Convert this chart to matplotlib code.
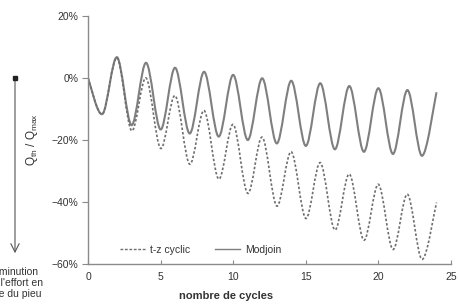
import matplotlib
matplotlib.use('Agg')
import matplotlib.pyplot as plt
from matplotlib.path import Path
from matplotlib.patches import PathPatch, FancyArrowPatch
from matplotlib.lines import Line2D
from matplotlib.ticker import PercentFormatter

plt.rcParams['font.family'] = ['Liberation Sans', 'DejaVu Sans']
plt.rcParams['mathtext.fontset'] = 'custom'

# data: extremes of Q/Qmax at each half cycle (%)
cycles = list(range(25))
tz_cyclic = [0, -11.6, 6.5, -17.0, 0.0, -22.7, -5.7, -27.8, -10.5, -32.6, -15.0, -37.2, -19.1,
             -41.3, -23.8, -45.3, -27.3, -49.0, -31.0, -52.3, -34.3, -55.3, -37.5, -58.5, -40.2]
modjoin = [0, -11.6, 6.7, -15.2, 4.9, -16.6, 3.3, -17.9, 2.0, -18.9, 1.0, -20.0, -0.1,
           -21.1, -0.9, -21.9, -1.7, -23.0, -2.6, -23.8, -3.3, -24.5, -3.9, -25.1, -4.6]
x_ticks = [0, 5, 10, 15, 20, 25]
y_ticks = [-60, -40, -20, 0, 20]

gray = '#7f7f7f'
dark = '#6e6e6e'
axcol = '#8a8a8a'
txt = '#333333'
fs = 7.5


def smooth_path(xs, ys):
    # excel-like smoothed line (cubic bezier, catmull-rom tangents)
    pts = list(zip(xs, ys))
    n = len(pts)
    verts = [pts[0]]
    codes = [Path.MOVETO]
    for i in range(n - 1):
        p0 = pts[max(i - 1, 0)]
        p1 = pts[i]
        p2 = pts[i + 1]
        p3 = pts[min(i + 2, n - 1)]
        c1 = (p1[0] + (p2[0] - p0[0]) / 6, p1[1] + (p2[1] - p0[1]) / 6)
        c2 = (p2[0] - (p3[0] - p1[0]) / 6, p2[1] - (p3[1] - p1[1]) / 6)
        verts += [c1, c2, p2]
        codes += [Path.CURVE4] * 3
    return Path(verts, codes)


fig = plt.figure(figsize=(4.59, 3.04), dpi=100)
ax = fig.add_axes([88 / 459, 1 - 264 / 304, 363 / 459, 248 / 304])

ax.add_patch(PathPatch(smooth_path(cycles, modjoin), fill=False, edgecolor=gray, lw=1.5))
ax.add_patch(PathPatch(smooth_path(cycles, tz_cyclic), fill=False, edgecolor=dark, lw=1.2,
                       linestyle=(0, (1.5, 1.2))))

ax.set_xlim(0, 25)
ax.set_ylim(-60, 20)
ax.set_xticks(x_ticks)
ax.set_yticks(y_ticks)
ax.yaxis.set_major_formatter(PercentFormatter(decimals=0))
for s in ['top', 'right']:
    ax.spines[s].set_visible(False)
for s in ['left', 'bottom']:
    ax.spines[s].set_color(axcol)
    ax.spines[s].set_linewidth(1.0)
ax.tick_params(axis='x', direction='in', length=3, color=axcol, labelsize=fs, pad=6, labelcolor=txt)
ax.tick_params(axis='y', direction='out', length=4, color=axcol, labelsize=fs, pad=3, labelcolor=txt)

ax.set_ylabel(r'Q$_\mathregular{th}$ / Q$_\mathregular{max}$', fontsize=fs + 1, color=txt, labelpad=8)
fig.text(226 / 459, 1 - 296 / 304, 'nombre de cycles', ha='center', va='center',
         fontsize=fs + 0.5, fontweight='bold', color=txt)

handles = [Line2D([], [], color=dark, lw=1.0, linestyle=(0, (2, 1.2))),
           Line2D([], [], color=gray, lw=1.0)]
ax.legend(handles, ['t-z cyclic', 'Modjoin'], loc='center left', ncol=2, frameon=False,
          bbox_to_anchor=((120 - 88) / 363, (264 - 250) / 248), borderpad=0, borderaxespad=0,
          handlelength=2.4, handletextpad=0.5, columnspacing=2.4, fontsize=fs, labelcolor=txt)

# arrow on the left
fig.add_artist(FancyArrowPatch((15 / 459, 1 - 78 / 304), (15 / 459, 1 - 256 / 304),
                               transform=fig.transFigure, arrowstyle='->,head_length=3,head_width=1.5',
                               color='#555555', lw=0.8, mutation_scale=2))
fig.add_artist(Line2D([15 / 459], [1 - 78 / 304], transform=fig.transFigure, marker='s',
                      markersize=2.5, color='#222222'))
fig.text(14 / 459, 1 - 283 / 304, "Diminution\nde l'effort en\ntête du pieu", ha='center', va='center',
         multialignment='center', fontsize=fs, linespacing=1.15, color=txt)

fig.savefig('out.png', dpi=100)
